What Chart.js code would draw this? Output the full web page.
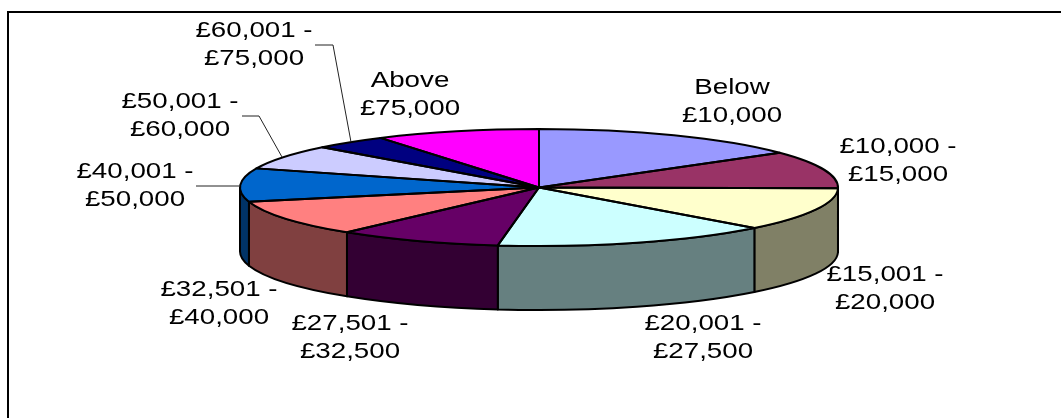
<!DOCTYPE html>
<html>
<head>
<meta charset="utf-8">
<style>
  html, body { margin: 0; padding: 0; background: #fff; }
  #wrap { position: relative; width: 1061px; height: 418px; }
</style>
</head>
<body>
<div id="wrap"><canvas id="incomeChart" width="1061" height="418"></canvas></div>

<script src="https://cdn.jsdelivr.net/npm/chart.js"></script>
<script>
  const categories = [
    ['Below', '£10,000'],
    ['£10,000 -', '£15,000'],
    ['£15,001 -', '£20,000'],
    ['£20,001 -', '£27,500'],
    ['£27,501 -', '£32,500'],
    ['£32,501 -', '£40,000'],
    ['£40,001 -', '£50,000'],
    ['£50,001 -', '£60,000'],
    ['£60,001 -', '£75,000'],
    ['Above', '£75,000']
  ];
  const shares = [14.9, 10.3, 12, 15, 8.9, 10, 9.2, 6.8, 4, 8.9];
  const sliceColors = ['#9999FF', '#993366', '#FFFFCC', '#CCFFFF', '#660066',
                       '#FF8080', '#0066CC', '#CCCCFF', '#000080', '#FF00FF'];

  // where the squashed pie sits on the page
  const pie = { cx: 539, cy: 187.5, rx: 299, ry: 58.5, depth: 64 };

  // label centre x and first baseline, same order as categories
  const labelSpots = [[732, 94], [898, 153], [885, 281], [703, 330], [350, 330],
                      [219, 296], [135, 178], [180, 108], [254, 37], [410, 87]];

  const leaders = [
    [[196, 186], [240, 186]],
    [[242, 116], [259, 116], [282, 157]],
    [[315, 45], [333, 45], [351, 142]]
  ];

  function darker(hex) {
    const n = parseInt(hex.slice(1), 16);
    const half = v => Math.round(v / 2);
    return `rgb(${half(n >> 16)},${half((n >> 8) & 255)},${half(n & 255)})`;
  }

  function wallPath(ctx, a1, a2) {
    ctx.beginPath();
    ctx.ellipse(pie.cx, pie.cy, pie.rx, pie.ry, 0, a1, a2);
    ctx.ellipse(pie.cx, pie.cy + pie.depth, pie.rx, pie.ry, 0, a2, a1, true);
    ctx.closePath();
  }

  const pie3d = {
    id: 'pie3d',
    beforeDatasetsDraw(chart) {
      const ctx = chart.ctx;
      const arcs = chart.getDatasetMeta(0).data;

      // front walls, only the part facing the viewer
      ctx.save();
      ctx.lineWidth = 2;
      ctx.strokeStyle = '#000';
      ctx.lineJoin = 'round';
      arcs.forEach((arc, i) => {
        const a1 = Math.max(arc.startAngle, 0);
        const a2 = Math.min(arc.endAngle, Math.PI);
        if (a2 <= a1) return;
        wallPath(ctx, a1, a2);
        ctx.fillStyle = darker(sliceColors[i]);
        ctx.fill();
        ctx.stroke();
      });
      ctx.restore();

      // arcs get squashed into the ellipse of the top face
      const r = arcs[0].outerRadius;
      ctx.save();
      ctx.translate(pie.cx, pie.cy);
      ctx.scale(pie.rx / r, pie.ry / r);
      ctx.translate(-arcs[0].x, -arcs[0].y);
    },
    afterDatasetsDraw(chart) {
      const ctx = chart.ctx;
      ctx.restore();

      // outlines after the restore so the line width stays even
      const arcs = chart.getDatasetMeta(0).data;
      ctx.save();
      ctx.lineWidth = 2;
      ctx.strokeStyle = '#000';
      ctx.lineJoin = 'round';
      arcs.forEach(arc => {
        ctx.beginPath();
        ctx.moveTo(pie.cx, pie.cy);
        ctx.ellipse(pie.cx, pie.cy, pie.rx, pie.ry, 0, arc.startAngle, arc.endAngle);
        ctx.closePath();
        ctx.stroke();
      });
      ctx.restore();

      // only the top and left edges of the frame are in the picture
      ctx.save();
      ctx.strokeStyle = '#000';
      ctx.lineWidth = 2;
      ctx.beginPath();
      ctx.moveTo(8, 418);
      ctx.lineTo(8, 12);
      ctx.lineTo(1061, 12);
      ctx.stroke();
      ctx.restore();

      // leader lines
      ctx.save();
      ctx.strokeStyle = '#222';
      ctx.lineWidth = 1;
      leaders.forEach(pts => {
        ctx.beginPath();
        pts.forEach((p, i) => i ? ctx.lineTo(p[0], p[1]) : ctx.moveTo(p[0], p[1]));
        ctx.stroke();
      });
      ctx.restore();

      // labels, the original text is stretched sideways
      ctx.save();
      ctx.fillStyle = '#000';
      ctx.font = '22px "Liberation Sans"';
      ctx.textAlign = 'center';
      categories.forEach((lines, i) => {
        lines.forEach((txt, j) => {
          ctx.save();
          ctx.translate(labelSpots[i][0], labelSpots[i][1] + j * 28);
          ctx.scale(1.26, 1);
          ctx.fillText(txt, 0, 0);
          ctx.restore();
        });
      });
      ctx.restore();
    }
  };

  new Chart(document.getElementById('incomeChart'), {
    type: 'pie',
    data: {
      labels: categories.map(c => c.join(' ')),
      datasets: [{
        data: shares,
        backgroundColor: sliceColors,
        borderWidth: 0
      }]
    },
    options: {
      responsive: false,
      animation: false,
      events: [],
      plugins: { legend: { display: false }, tooltip: { enabled: false } }
    },
    plugins: [pie3d]
  });
</script>
</body>
</html>
